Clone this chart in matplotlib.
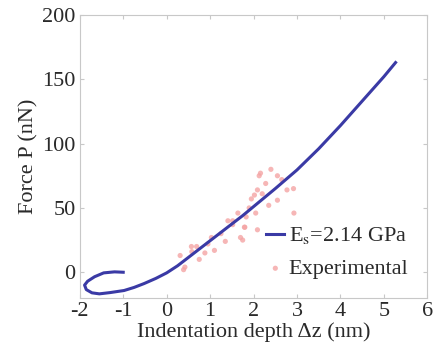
import matplotlib
matplotlib.use("Agg")
import matplotlib.pyplot as plt

# model curve E_s = 2.14 GPa
curve_dz = [-1.0, -1.2, -1.45, -1.66, -1.82, -1.89, -1.85, -1.72, -1.55, -1.3,
            -0.98, -0.75, -0.52, -0.25, 0.0, 0.25, 0.5, 0.75, 1.0, 1.25,
            1.5, 1.75, 2.0, 2.5, 3.0, 3.5, 4.0, 4.5, 5.0, 5.27]
curve_p = [0.0, 0.3, -0.5, -3.5, -7.0, -10.0, -13.5, -16.0, -16.8, -15.8,
           -14.2, -11.8, -8.8, -4.8, -0.5, 5.0, 11.5, 18.0, 24.5, 31.0,
           37.5, 44.0, 51.0, 65.0, 79.5, 96.0, 114.0, 133.0, 152.0, 163.0]

# experimental points
exp_dz = [0.31, 0.39, 0.42, 0.57, 0.58, 0.69, 0.88, 1.03, 1.10, 1.41,
          1.52, 1.52, 1.64, 1.70, 1.75, 1.79, 1.80, 1.83, 1.90, 2.02,
          2.05, 2.09, 2.09, 2.13, 2.16, 2.20, 2.28, 2.55, 2.55, 2.77,
          2.92, 2.93, 1.25, 1.35, 0.75, 2.40, 2.65, 2.35, 1.95, 0.95]
exp_p = [13, 2, 4, 20, 16, 20, 15, 27, 17, 40,
         37, 40, 46, 27, 25, 35, 35, 43, 50, 60,
         46, 64, 33, 75, 77, 61, 69, 75, 56, 64,
         65, 46, 30, 24, 10, 80, 72, 52, 57, 22]

plt.rcParams["font.family"] = ["Liberation Serif", "DejaVu Serif"]
plt.rcParams["mathtext.fontset"] = "stix"
plt.rcParams["axes.unicode_minus"] = False

fig = plt.figure(figsize=(4.36, 3.56), dpi=100)
ax = fig.add_axes([0.183, 0.163, 0.797, 0.795])

ax.scatter(exp_dz, exp_p, s=14, color="#f4a4a4", alpha=0.8, edgecolors="none",
           label="Experimental", zorder=2)
ax.plot(curve_dz, curve_p, color="#3a3aa5", linewidth=2.2, label=r"E$_\mathrm{s}$=2.14 GPa",
        zorder=3)

ax.set_xlim(-2, 6)
ax.set_ylim(-20, 200)
ax.set_xticks(range(-2, 7))
ax.set_yticks([0, 50, 100, 150, 200])
ax.tick_params(direction="in", length=3, top=True, right=True, labelsize=16,
               color="#c8c8c8", labelcolor="#2a2a2a", pad=3)
for sp in ax.spines.values():
    sp.set_color("#c8c8c8")
    sp.set_linewidth(0.8)

ax.set_xlabel("Indentation depth Δz (nm)", fontsize=16, color="#2a2a2a", labelpad=1)
ax.set_ylabel("Force P (nN)", fontsize=16, color="#2a2a2a", labelpad=3)

handles, labels = ax.get_legend_handles_labels()
leg = ax.legend(handles[::-1], labels[::-1], loc="lower right", frameon=False,
                fontsize=16, handlelength=0.8, handletextpad=0.2,
                borderaxespad=0.55, borderpad=0.3, labelspacing=0.55)
for t in leg.get_texts():
    t.set_color("#2a2a2a")

fig.savefig("out.png", dpi=100)
